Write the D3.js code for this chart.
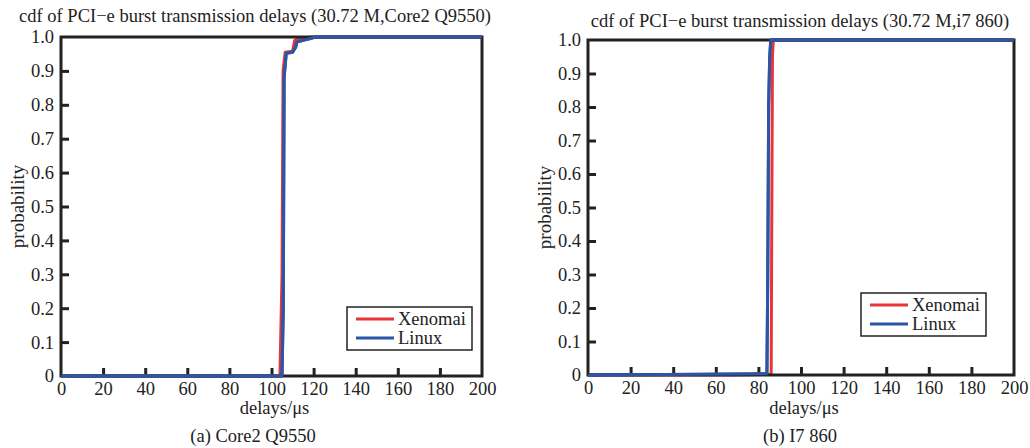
<!DOCTYPE html>
<html>
<head>
<meta charset="utf-8">
<script src="https://cdn.jsdelivr.net/npm/d3@7"></script>
<style>
  body { margin: 0; background: #fff; }
  svg text { font-family: "Liberation Serif", "Times New Roman", serif; fill: #222; }
</style>
</head>
<body>
<svg id="chart" width="1030" height="448"></svg>
<script>
// tick values
var xTicks = [0, 20, 40, 60, 80, 100, 120, 140, 160, 180, 200];
var yTicks = [0, 0.1, 0.2, 0.3, 0.4, 0.5, 0.6, 0.7, 0.8, 0.9, 1.0];
var seriesNames = ["Xenomai", "Linux"];

// (a) Core2 Q9550
var core2XenomaiX = [0, 104, 105, 105.5, 106.5, 110, 111, 113, 116, 119, 200];
var core2XenomaiY = [0, 0, 0.3, 0.9, 0.955, 0.958, 0.99, 0.995, 0.998, 1.0, 1.0];
var core2LinuxX = [0, 105, 105.6, 106, 107, 110, 111.5, 112, 115, 118, 121, 200];
var core2LinuxY = [0, 0, 0.2, 0.88, 0.952, 0.955, 0.97, 0.985, 0.99, 0.995, 1.0, 1.0];

// (b) i7 860
var i7XenomaiX = [0, 70, 86, 86.3, 86.6, 87, 200];
var i7XenomaiY = [0, 0, 0.002, 0.5, 0.95, 1.0, 1.0];
var i7LinuxX = [0, 55, 84, 84.4, 84.8, 85.3, 85.8, 200];
var i7LinuxY = [0, 0.002, 0.004, 0.3, 0.8, 0.95, 1.0, 1.0];

var colors = ["#e8353a", "#2d55a5"];
var serif = "Liberation Serif, Times New Roman, serif";

var svg = d3.select("#chart");

function drawPanel(opt) {
    var x = d3.scaleLinear().domain([0, 200]).range([opt.left, opt.right]);
    var y = d3.scaleLinear().domain([0, 1]).range([opt.bottom, opt.top]);
    var g = svg.append("g");

    var line = d3.line()
        .x(function (d) { return x(d[0]); })
        .y(function (d) { return y(d[1]); });
    function drawCurve(s, i) {
        var pts = s.x.map(function (v, k) { return [v, s.y[k]]; });
        g.append("path")
            .attr("d", line(pts))
            .attr("fill", "none")
            .attr("stroke", colors[i])
            .attr("stroke-width", 3)
            .attr("stroke-linejoin", "round");
    }

    // axes with inward ticks
    var xAxis = d3.axisBottom(x).tickValues(xTicks).tickSize(-8).tickPadding(6)
        .tickFormat(d3.format("d"));
    var gx = g.append("g").attr("transform", "translate(0," + opt.bottom + ")").call(xAxis);
    var yAxis = d3.axisLeft(y).tickValues(yTicks).tickSize(-8).tickPadding(7)
        .tickFormat(function (d) { return d === 0 ? "0" : d3.format(".1f")(d); });
    var gy = g.append("g").attr("transform", "translate(" + opt.left + ",0)").call(yAxis);
    [gx, gy].forEach(function (a) {
        a.attr("font-family", serif).attr("font-size", 18);
        a.select(".domain").remove();
        a.selectAll(".tick line").attr("stroke", "#222").attr("stroke-width", 3);
        a.selectAll(".tick text").attr("font-family", serif).style("font-size", "18.5px").attr("fill", "#222");
    });
    gx.selectAll(".tick").filter(function (d) { return d === 0 || d === 200; }).select("line").remove();
    gy.selectAll(".tick").filter(function (d) { return d === 0 || d === 1; }).select("line").remove();

    // curves, then frame, then blue over frame
    opt.series.forEach(drawCurve);
    g.append("rect")
        .attr("x", opt.left).attr("y", opt.top)
        .attr("width", opt.right - opt.left).attr("height", opt.bottom - opt.top)
        .attr("fill", "none").attr("stroke", "#222").attr("stroke-width", 3);
    drawCurve(opt.series[1], 1);

    // title and labels
    g.append("text").attr("x", opt.titleX).attr("y", opt.titleY)
        .attr("text-anchor", "middle").style("font-size", "18.5px").text(opt.title);
    g.append("text")
        .attr("transform", "translate(" + opt.yLabelX + "," + ((opt.top + opt.bottom) / 2) + ") rotate(-90)")
        .attr("text-anchor", "middle").style("font-size", "19px").text("probability");
    g.append("text").attr("x", (opt.left + opt.right) / 2 + 3).attr("y", 414)
        .attr("text-anchor", "middle").style("font-size", "18.5px").text("delays/\u03bcs");
    g.append("text").attr("x", opt.captionX).attr("y", 442)
        .attr("text-anchor", "middle").style("font-size", "18.5px").text(opt.caption);

    // legend
    var lg = g.append("g").attr("transform", "translate(" + opt.legX + "," + opt.legY + ")");
    lg.append("rect").attr("width", 125).attr("height", 43)
        .attr("fill", "#fff").attr("stroke", "#222").attr("stroke-width", 1.5);
    seriesNames.forEach(function (n, i) {
        var yy = 12 + i * 19;
        lg.append("line").attr("x1", 9).attr("x2", 47).attr("y1", yy).attr("y2", yy)
            .attr("stroke", colors[i]).attr("stroke-width", 3);
        lg.append("text").attr("x", 51).attr("y", yy + 6).style("font-size", "18.5px").text(n);
    });
}

drawPanel({
    left: 61, right: 482, top: 37, bottom: 376,
    title: "cdf of PCI\u2212e burst transmission delays (30.72 M,Core2 Q9550)",
    titleX: 255, titleY: 22, yLabelX: 24, captionX: 253, caption: "(a) Core2 Q9550",
    legX: 347, legY: 307,
    series: [{ x: core2XenomaiX, y: core2XenomaiY }, { x: core2LinuxX, y: core2LinuxY }]
});

drawPanel({
    left: 588, right: 1014, top: 40, bottom: 375,
    title: "cdf of PCI\u2212e burst transmission delays (30.72 M,i7 860)",
    titleX: 800, titleY: 27, yLabelX: 551, captionX: 800, caption: "(b) I7 860",
    legX: 861, legY: 293,
    series: [{ x: i7XenomaiX, y: i7XenomaiY }, { x: i7LinuxX, y: i7LinuxY }]
});
</script>
</body>
</html>
